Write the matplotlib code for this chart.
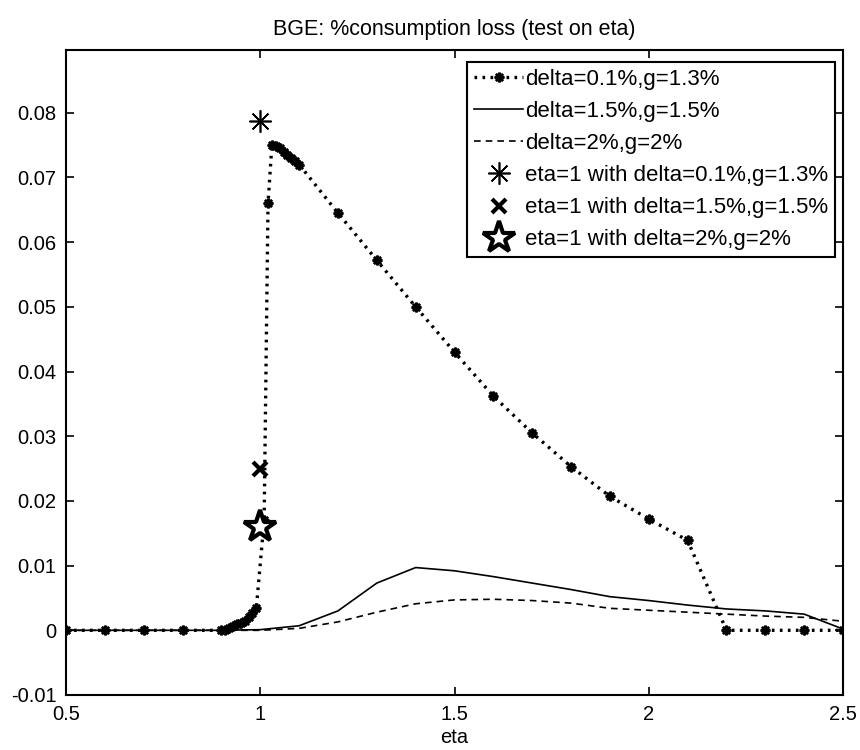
import matplotlib
matplotlib.use("Agg")
import matplotlib.pyplot as plt
import numpy as np

plt.rcParams['font.family'] = ['Liberation Sans', 'DejaVu Sans']

# delta=0.1%, g=1.3% (dotted with markers)
eta1 = [0.5, 0.6, 0.7, 0.8, 0.9, 0.91, 0.92, 0.93, 0.94, 0.95, 0.96, 0.97, 0.98, 0.99,
        1.01, 1.02, 1.03, 1.04, 1.05, 1.06, 1.07, 1.08, 1.09, 1.1,
        1.2, 1.3, 1.4, 1.5, 1.6, 1.7, 1.8, 1.9, 2.0, 2.1, 2.2, 2.3, 2.4, 2.5]
loss1 = [0, 0, 0, 0, 0, 0.0001, 0.0003, 0.0006, 0.0009, 0.0012, 0.0015, 0.002, 0.0026, 0.0035,
         0.017, 0.066, 0.075, 0.0748, 0.0745, 0.0740, 0.0735, 0.0730, 0.0725, 0.0720,
         0.0645, 0.0572, 0.0500, 0.0430, 0.0362, 0.0305, 0.0253, 0.0207, 0.0172, 0.0139,
         0, 0, 0, 0]

# delta=1.5%, g=1.5% (solid) and delta=2%, g=2% (dashed)
eta2 = [0.5, 0.6, 0.7, 0.8, 0.9, 1.0, 1.1, 1.2, 1.3, 1.4, 1.5, 1.6, 1.7, 1.8, 1.9,
        2.0, 2.1, 2.2, 2.3, 2.4, 2.5]
loss2 = [0, 0, 0, 0, 0, 0.0001, 0.0007, 0.0030, 0.0073, 0.0097, 0.0092, 0.0083, 0.0073,
         0.0063, 0.0052, 0.0046, 0.0039, 0.0033, 0.0030, 0.0025, 0.0002]
loss3 = [0, 0, 0, 0, 0, 0, 0.0003, 0.0013, 0.0028, 0.0041, 0.0047, 0.0048, 0.0046,
         0.0042, 0.0034, 0.0031, 0.0028, 0.0025, 0.0022, 0.0020, 0.0014]

# eta = 1 points
eta_one = 1.0
pt_a = 0.0787
pt_b = 0.025
pt_c = 0.016

labels = ['delta=0.1%,g=1.3%', 'delta=1.5%,g=1.5%', 'delta=2%,g=2%',
          'eta=1 with delta=0.1%,g=1.3%', 'eta=1 with delta=1.5%,g=1.5%',
          'eta=1 with delta=2%,g=2%']

xticks = [0.5, 1, 1.5, 2, 2.5]
xticklabels = ['0.5', '1', '1.5', '2', '2.5']
yticks = [-0.01, 0, 0.01, 0.02, 0.03, 0.04, 0.05, 0.06, 0.07, 0.08]
yticklabels = ['-0.01', '0', '0.01', '0.02', '0.03', '0.04', '0.05', '0.06', '0.07', '0.08']

fig = plt.figure(figsize=(8.6, 7.5), dpi=100)
ax = fig.add_axes([66/860, 55/750, 777/860, 645/750])

ax.plot(eta1, loss1, color='black', linestyle=(0, (0.8, 1.6)), linewidth=2.4,
        marker=(8, 2, 0), markersize=7, markeredgewidth=1.8, label=labels[0])
ax.plot(eta2, loss2, color='black', linestyle='-', linewidth=1.2, label=labels[1])
ax.plot(eta2, loss3, color='black', linestyle=(0, (4, 3)), linewidth=1.2, label=labels[2])
ax.plot([eta_one], [pt_a], linestyle='none', color='black', marker=(8, 2, 0),
        markersize=16, markeredgewidth=1.2, label=labels[3])
ax.plot([eta_one], [pt_b], linestyle='none', color='black', marker='x',
        markersize=10, markeredgewidth=3, label=labels[4])
ax.plot([eta_one], [pt_c], linestyle='none', color='black', marker='*',
        markersize=24, markerfacecolor='white', markeredgecolor='black',
        markeredgewidth=3, label=labels[5])

ax.set_xlim(0.5, 2.5)
ax.set_ylim(-0.01, 0.0897)
ax.set_xticks(xticks)
ax.set_xticklabels(xticklabels)
ax.set_yticks(yticks)
ax.set_yticklabels(yticklabels)
ax.tick_params(direction='in', length=6, width=1.2, top=True, right=True,
               labelsize=14.5, pad=7)
for s in ax.spines.values():
    s.set_linewidth(1.5)

ax.set_title('BGE: %consumption loss (test on eta)', fontsize=15.5, pad=11)
ax.set_xlabel('eta', fontsize=14.5, labelpad=3)

leg = ax.legend(loc='upper right', bbox_to_anchor=(0.9897, 0.981), fontsize=16,
                frameon=True, fancybox=False, edgecolor='black', framealpha=1,
                handlelength=2.2, handletextpad=0.1, labelspacing=0.5,
                borderpad=0.3, borderaxespad=0)
leg.get_frame().set_linewidth(1.5)

fig.savefig('out.png', dpi=100)
